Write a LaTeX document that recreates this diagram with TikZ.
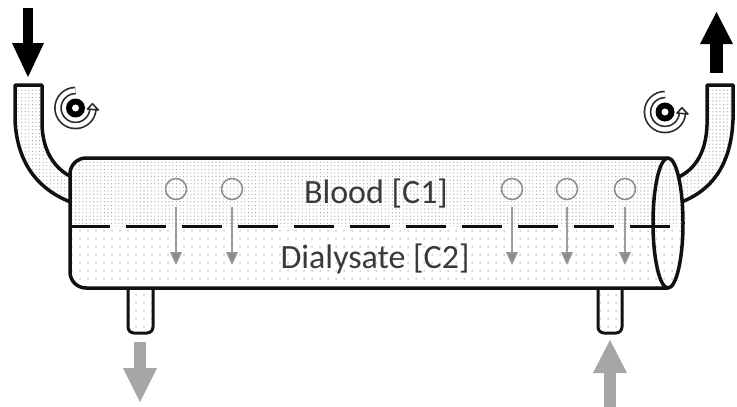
\documentclass[tikz,border=0pt]{standalone}
\usepackage{fontspec}
\setmainfont{Carlito}
\usetikzlibrary{arrows.meta,patterns.meta}

\definecolor{inkline}{HTML}{111111}
\definecolor{labelgray}{HTML}{3A3A3A}
\definecolor{molgray}{HTML}{8C8C8C}
\definecolor{fluxgray}{HTML}{9C9C9C}
\definecolor{flowgray}{HTML}{A6A6A6}
\definecolor{dotgray}{HTML}{A0A0A0}
\definecolor{pumpgray}{HTML}{2A2A2A}

\tikzset{
  outline/.style={draw=inkline, line width=3.5pt, line join=round},
  densedots/.style={pattern={Dots[distance=3.6pt,radius=0.6pt]}, pattern color=dotgray},
  sparsedots/.style={pattern={Dots[distance=8pt,radius=0.75pt]}, pattern color=dotgray},
  lbl/.style={text=labelgray, font=\fontsize{34}{38}\selectfont, inner sep=0pt, anchor=base},
  mol/.style={circle, draw=molgray, line width=1.5pt, minimum size=21pt, inner sep=0pt},
  flux/.style={draw=fluxgray, line width=1.1pt, shorten <=7pt,
    -{Triangle[width=12pt,length=13pt,fill=molgray]}},
  membrane/.style={draw=inkline, line width=3pt, dash pattern=on 40pt off 16pt},
  pumpband/.style={draw=pumpgray, line width=1.7pt, double=white, double distance=4.4pt},
  pump/.pic={
    \draw[pumpband] (-90:17.5) arc[start angle=-90, end angle=-355, radius=17.5];
    \draw[draw=pumpgray, fill=white, line width=1.6pt, line join=round]
      (5:12) -- (5:23) -- (-14:17.5) -- cycle;
    \fill[black] (0,0) circle (9.5);
    \fill[white] (0,0) circle (3.5);
  }
}

\begin{document}
\begin{tikzpicture}[x=1pt, y=-1pt]
\useasboundingbox (0,0) rectangle (737,407);

% inlet and outlet blood lines
\def\inlet{(15,85) -- (15,120) .. controls (17,165) and (40,192) .. (76,204)
  -- (76,179) .. controls (58,172) and (43,155) .. (42,125) -- (42,85) -- cycle}
\def\outlet{(733,85) -- (733,120) .. controls (731,165) and (712,192) .. (676,204)
  -- (674,179) .. controls (693,172) and (706,155) .. (707,125) -- (707,85) -- cycle}
\fill[white] \inlet;  \fill[densedots] \inlet;  \draw[outline] \inlet;
\fill[white] \outlet; \fill[densedots] \outlet; \draw[outline] \outlet;

% dialysate ports
\def\portL{[rounded corners=6pt] (128,270) -- (128,333) -- (153,333) -- (153,270)}
\def\portR{[rounded corners=6pt] (598,270) -- (598,333) -- (622,333) -- (622,270)}
\fill[white] \portL; \fill[sparsedots] \portL; \draw[outline, line width=3pt] \portL;
\fill[white] \portR; \fill[sparsedots] \portR; \draw[outline, line width=3pt] \portR;

% dialyser body
\def\body{(668,158) [rounded corners=16pt] -- (70,158) -- (70,288) -- (200,288)
  [sharp corners] -- (668,288)
  arc[start angle=90, end angle=-90, x radius=15, y radius=65] -- cycle}
\fill[white] \body;
\begin{scope}
  \clip \body;
  \fill[densedots] (60,150) rectangle (690,226);
  \fill[sparsedots] (60,226) rectangle (690,300);
\end{scope}
\draw[membrane] (70,226) -- (683,226);
\draw[outline] (668,158) [rounded corners=16pt] -- (70,158) -- (70,288) -- (200,288)
  [sharp corners] -- (668,288);
\draw[outline] (668,223) ellipse [x radius=15, y radius=65];

% compartment labels
\node[lbl] (blood) at (376,203) {Blood [C1]};
\node[lbl] (dialysate) at (375,268) {Dialysate [C2]};

% solute molecules crossing the membrane
\foreach \i/\x in {1/176, 2/232, 3/512, 4/567, 5/625} {
  \node[mol] (m\i) at (\x,189) {};
  \coordinate (e\i) at (\x,265);
  \draw[flux] (m\i) -- (e\i);
}

% pumps
\pic at (75.5,108) {pump};
\pic at (665,112) {pump};

% blood flow arrows
\fill[black] (23,8) rectangle (33,45);
\fill[black] (12,43) -- (44,43) -- (28,77) -- cycle;
\fill[black] (710,42) rectangle (723,73);
\fill[black] (700,44) -- (733,44) -- (716.5,12) -- cycle;

% dialysate flow arrows
\fill[flowgray] (134,342) rectangle (146,369);
\fill[flowgray] (123,368) -- (157,368) -- (140,402) -- cycle;
\fill[flowgray] (604,372) rectangle (616,407);
\fill[flowgray] (593,373) -- (627,373) -- (610,340) -- cycle;
\end{tikzpicture}
\end{document}
